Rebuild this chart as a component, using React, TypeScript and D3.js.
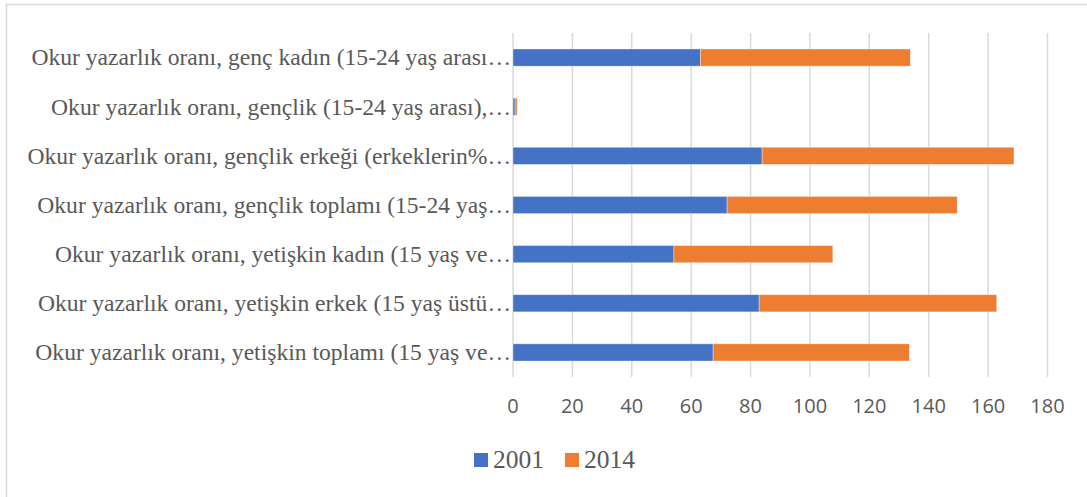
import { useEffect, useRef } from "react";
import * as d3 from "d3";

const categories = [
  "Okur yazarlık oranı, genç kadın (15-24 yaş arası…",
  "Okur yazarlık oranı, gençlik (15-24 yaş arası),…",
  "Okur yazarlık oranı, gençlik erkeği (erkeklerin%…",
  "Okur yazarlık oranı, gençlik toplamı (15-24 yaş…",
  "Okur yazarlık oranı, yetişkin kadın (15 yaş ve…",
  "Okur yazarlık oranı, yetişkin erkek (15 yaş üstü…",
  "Okur yazarlık oranı, yetişkin toplamı (15 yaş ve…",
];
const values2001 = [63.1, 0.7, 83.9, 72.1, 54.2, 82.9, 67.4];
const values2014 = [70.7, 0.7, 84.8, 77.5, 53.5, 80.0, 66.1];
const seriesNames = ["2001", "2014"];
const xTicks = [0, 20, 40, 60, 80, 100, 120, 140, 160, 180];

const colors = ["#4472C4", "#ED7D31"];

export default function App() {
  const svgRef = useRef<SVGSVGElement>(null);

  useEffect(() => {
    if (!svgRef.current) return;
    const svg = d3.select(svgRef.current);
    const width = 1087;
    const height = 497;
    svg.selectAll("*").remove();
    svg.attr("width", width).attr("height", height);

    svg
      .append("rect")
      .attr("width", width)
      .attr("height", height)
      .attr("fill", "#ffffff");

    // chart border (cut off on right and bottom)
    svg
      .append("rect")
      .attr("x", 6.5)
      .attr("y", 4.5)
      .attr("width", width + 20)
      .attr("height", height + 20)
      .attr("fill", "none")
      .attr("stroke", "#d9d9d9")
      .attr("stroke-width", 1.5);

    const plot = { left: 513, right: 1047.5, top: 33, bottom: 377 };

    const xScale = d3
      .scaleLinear()
      .domain([0, 180])
      .range([plot.left, plot.right]);

    const yScale = d3
      .scaleBand()
      .domain(categories)
      .range([plot.top, plot.bottom])
      .paddingInner(0.65)
      .paddingOuter(0.325);

    // grid lines
    svg
      .append("g")
      .selectAll("line")
      .data(xTicks)
      .enter()
      .append("line")
      .attr("x1", (d) => xScale(d))
      .attr("x2", (d) => xScale(d))
      .attr("y1", plot.top)
      .attr("y2", plot.bottom)
      .attr("stroke", "#d9d9d9")
      .attr("stroke-width", 1.5);

    // stacked bars
    const rows = categories.map((c, i) => ({
      cat: c,
      a: values2001[i],
      b: values2014[i],
    }));
    const stack = d3.stack<any>().keys(["a", "b"])(rows);

    stack.forEach((layer, li) => {
      svg
        .append("g")
        .selectAll("rect")
        .data(layer)
        .enter()
        .append("rect")
        .attr("x", (d) => xScale(d[0]))
        .attr("y", (d) => yScale(d.data.cat)!)
        .attr("width", (d) => xScale(d[1]) - xScale(d[0]))
        .attr("height", yScale.bandwidth())
        .attr("fill", colors[li])
        .attr("stroke", "#ffffff")
        .attr("stroke-opacity", 0.5)
        .attr("stroke-width", 0.75);
    });

    // category labels
    svg
      .append("g")
      .selectAll("text")
      .data(categories)
      .enter()
      .append("text")
      .attr("x", plot.left - 2)
      .attr("y", (d) => yScale(d)! + yScale.bandwidth() / 2)
      .attr("dy", "0.33em")
      .attr("text-anchor", "end")
      .attr("fill", "#595959")
      .attr("font-family", "'Liberation Serif', 'Times New Roman', serif")
      .attr("font-size", "23.6px")
      .text((d) => d);

    // x tick labels
    svg
      .append("g")
      .selectAll("text")
      .data(xTicks)
      .enter()
      .append("text")
      .attr("x", (d) => xScale(d))
      .attr("y", 413)
      .attr("text-anchor", "middle")
      .attr("fill", "#595959")
      .attr("font-family", "'Open Sans', sans-serif")
      .attr("font-size", "20px")
      .text((d) => d);

    // legend
    const legendX = [474, 565];
    const legend = svg
      .append("g")
      .selectAll("g")
      .data(seriesNames)
      .enter()
      .append("g")
      .attr("transform", (_, i) => `translate(${legendX[i]},453)`);
    legend
      .append("rect")
      .attr("width", 14)
      .attr("height", 14)
      .attr("fill", (_, i) => colors[i]);
    legend
      .append("text")
      .attr("x", 19)
      .attr("y", 15)
      .attr("fill", "#595959")
      .attr("font-family", "'Liberation Serif', 'Times New Roman', serif")
      .attr("font-size", "25.5px")
      .text((d) => d);
  }, []);

  return (
    <div style={{ position: "absolute", left: 0, top: 0 }}>
      <svg ref={svgRef} style={{ display: "block" }}></svg>
    </div>
  );
}
